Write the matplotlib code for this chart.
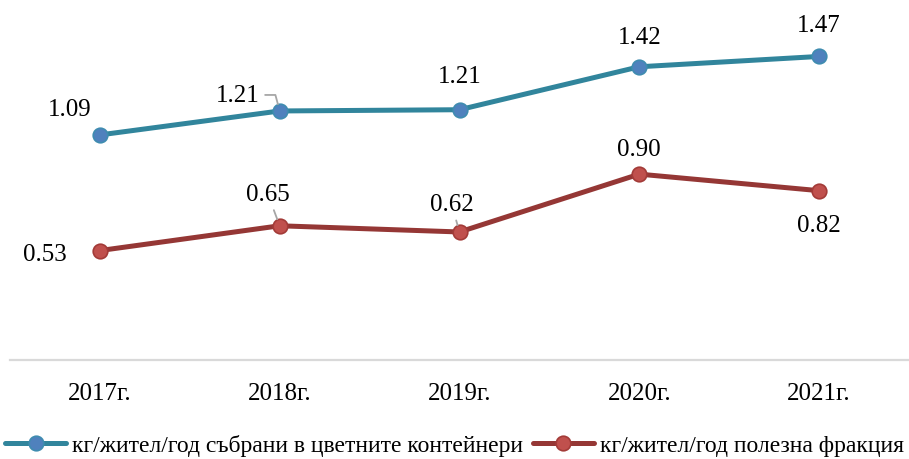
import matplotlib
matplotlib.use("Agg")
import matplotlib.pyplot as plt

years = ["2017г.", "2018г.", "2019г.", "2020г.", "2021г."]
collected = [1.09, 1.206, 1.212, 1.42, 1.47]
useful = [0.53, 0.65, 0.62, 0.90, 0.82]
name_collected = "кг/жител/год събрани в цветните контейнери"
name_useful = "кг/жител/год полезна фракция"

# label offsets in pixels (dx, dy) and whether a leader line is drawn
off_collected = [(-30, 26), (-42, 16), (0, 34), (0, 30), (0, 31)]
lead_collected = [False, True, False, False, False]
off_useful = [(-55, -3), (-12, 32), (-8, 28), (0, 25), (0, -34)]
lead_useful = [False, True, True, False, False]

plt.rcParams['font.family'] = ['Liberation Serif', 'DejaVu Serif']

W, H = 909, 460
fig = plt.figure(figsize=(W / 100, H / 100), dpi=100)
ax = fig.add_axes([10 / W, 99 / H, 899 / W, 361 / H])
ax.set_xlim(-0.5, len(years) - 0.5)
ax.set_ylim(0, 361 / 206.5)

x = list(range(len(years)))
l1, = ax.plot(x, collected, color="#31859C", lw=3.6, marker="o", ms=10.5,
              mfc="#4F81BD", mec="#3F8CB0", mew=1.2, solid_capstyle="round",
              label=name_collected, zorder=3)
l2, = ax.plot(x, useful, color="#953735", lw=3.6, marker="o", ms=10.5,
              mfc="#C0504D", mec="#A33B38", mew=1.2, solid_capstyle="round",
              label=name_useful, zorder=3)

def label(vals, offs, leads, conn):
    for xi, v, (dx, dy), ld, cs in zip(x, vals, offs, leads, conn):
        kw = {}
        if ld:
            kw["arrowprops"] = dict(arrowstyle="-", color="#A6A6A6", lw=1.3,
                                    shrinkA=2, shrinkB=5, connectionstyle=cs)
        ax.annotate(f"{v:.2f}", (xi, v), xytext=(dx, dy),
                    textcoords="offset pixels", ha="center", va="center",
                    fontsize=18, color="black", zorder=4, **kw)

label(collected, off_collected, lead_collected,
      ["arc3", "angle,angleA=0,angleB=105,rad=0", "arc3", "arc3", "arc3"])
label(useful, off_useful, lead_useful, ["arc3"] * 5)

for s in ["top", "left", "right"]:
    ax.spines[s].set_visible(False)
ax.spines["bottom"].set_color("#D9D9D9")
ax.spines["bottom"].set_linewidth(1.6)
ax.set_yticks([])
ax.set_xticks(x)
ax.set_xticklabels(years, fontsize=18)
ax.tick_params(axis="x", length=0, pad=16)

fig.legend(handles=[l1, l2], loc="center", bbox_to_anchor=(0.5, 1 - 446 / H),
           ncol=2, frameon=False, fontsize=17, handlelength=2.6,
           handletextpad=0.25, columnspacing=0.4, borderaxespad=0)

fig.savefig("out.png", dpi=100)
